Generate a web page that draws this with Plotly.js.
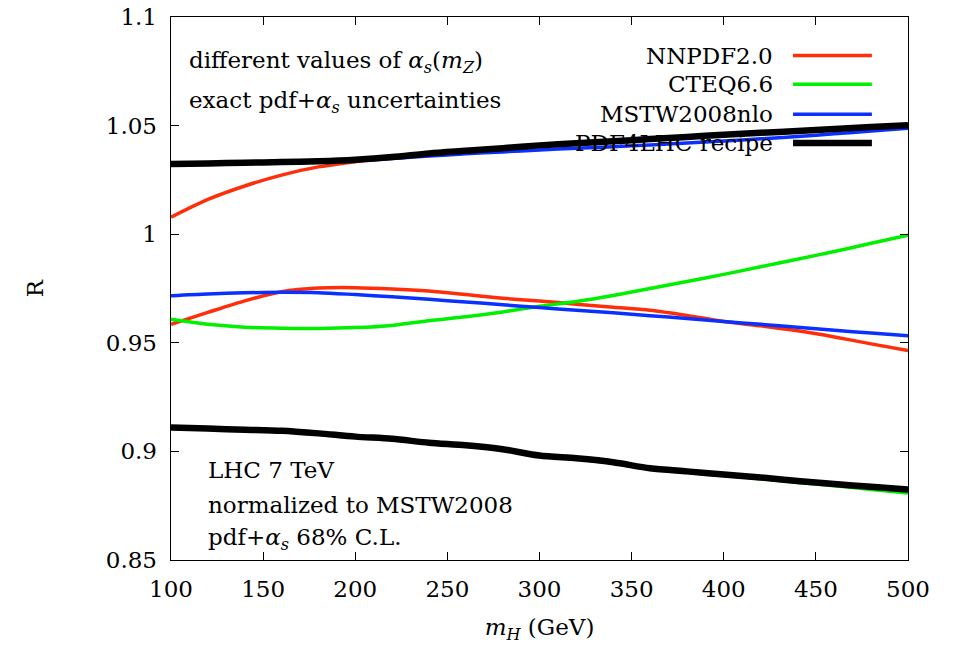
<!DOCTYPE html>
<html>
<head>
<meta charset="utf-8">
<script src="https://cdn.plot.ly/plotly-3.0.1.min.js"></script>
<style>
  html, body { margin: 0; padding: 0; background: #fff; }
  #chart { width: 953px; height: 648px; }
</style>
</head>
<body>
<div id="chart"></div>
<script>
// Higgs mass grid (GeV)
const mH = [100,120,140,160,180,200,220,240,260,280,300,320,340,360,380,400,420,440,460,480,500];

// NNPDF2.0 band (upper / lower)
const nnpdfUp   = [1.0078,1.0160,1.0222,1.0272,1.0310,1.0334,1.0352,1.0368,1.0381,1.0393,1.0406,1.0416,1.0425,1.0435,1.0445,1.0455,1.0464,1.0472,1.0481,1.0490,1.0499];
const nnpdfDown = [0.9585,0.9640,0.9693,0.9735,0.9752,0.9754,0.9748,0.9738,0.9722,0.9705,0.9692,0.9678,0.9664,0.9650,0.9626,0.9598,0.9578,0.9555,0.9527,0.9495,0.9464];

// CTEQ6.6 band
const cteqUp    = [0.9608,0.9585,0.9572,0.9567,0.9566,0.9570,0.9580,0.9602,0.9620,0.9642,0.9668,0.9690,0.9718,0.9750,0.9782,0.9815,0.9850,0.9885,0.9920,0.9958,0.9995];
const cteqDown  = [0.9112,0.9107,0.9102,0.9099,0.9088,0.9072,0.9060,0.9041,0.9027,0.9008,0.8978,0.8964,0.8946,0.8920,0.8904,0.8889,0.8874,0.8857,0.8842,0.8825,0.8808];

// MSTW2008nlo band
const mstwUp    = [1.0322,1.0325,1.0328,1.0331,1.0334,1.0339,1.0348,1.0360,1.0370,1.0379,1.0388,1.0396,1.0403,1.0411,1.0420,1.0429,1.0439,1.0450,1.0462,1.0475,1.0488];
const mstwDown  = [0.9717,0.9725,0.9730,0.9733,0.9731,0.9722,0.9712,0.9700,0.9688,0.9675,0.9662,0.9650,0.9638,0.9625,0.9612,0.9598,0.9585,0.9572,0.9558,0.9545,0.9533];

// PDF4LHC recipe envelope
const pdf4lhcUp   = [1.0323,1.0326,1.0329,1.0332,1.0336,1.0343,1.0355,1.0372,1.0384,1.0396,1.0409,1.0419,1.0428,1.0438,1.0448,1.0458,1.0467,1.0475,1.0484,1.0493,1.0502];
const pdf4lhcDown = [0.9110,0.9105,0.9100,0.9095,0.9083,0.9068,0.9058,0.9040,0.9028,0.9010,0.8981,0.8968,0.8950,0.8922,0.8908,0.8894,0.8880,0.8864,0.8850,0.8837,0.8824];

// axis ticks
const xTickVals = [100,150,200,250,300,350,400,450,500];
const yTickVals = [0.85,0.9,0.95,1,1.05,1.1];
const yTickText = ['0.85','0.9','0.95','1','1.05','1.1'];

// legend entries
const legendNames = ['NNPDF2.0','CTEQ6.6','MSTW2008nlo','PDF4LHC recipe'];

const RED = '#ff2e0a', GREEN = '#00f000', BLUE = '#0a30ff', BLACK = '#000000';
const FONT = 'DejaVu Serif';
const FS = 23;

function tr(y, color, width) {
  return { x: mH, y: y, mode: 'lines', type: 'scatter', showlegend: false,
           hoverinfo: 'skip',
           line: { color: color, width: width, shape: 'spline', smoothing: 0.8 } };
}

const data = [
  tr(nnpdfUp, RED, 3.5), tr(nnpdfDown, RED, 3.5),
  tr(cteqUp, GREEN, 3.5), tr(cteqDown, GREEN, 3.5),
  tr(mstwUp, BLUE, 3.5), tr(mstwDown, BLUE, 3.5),
  tr(pdf4lhcUp, BLACK, 6.5), tr(pdf4lhcDown, BLACK, 6.5)
];

// gnuplot-style key: text right-aligned, line sample to the right
const legColors = [RED, GREEN, BLUE, BLACK];
const legWidths = [3.5, 3.5, 3.5, 6.5];
const legY = [0.929, 0.876, 0.821, 0.768];
const annotations = [];
const shapes = [];
legendNames.forEach((n, i) => {
  annotations.push({ xref: 'paper', yref: 'paper', x: 0.819, y: legY[i], xanchor: 'right', yanchor: 'middle',
    text: n, showarrow: false, font: { family: FONT, size: FS, color: '#000' } });
  shapes.push({ type: 'line', xref: 'paper', yref: 'paper', x0: 0.844, x1: 0.951, y0: legY[i], y1: legY[i],
    line: { color: legColors[i], width: legWidths[i] } });
});

const notes = [
  { t: 'different values of <i>α<sub>s</sub></i>(<i>m<sub>Z</sub></i>)', x: 0.022, y: 0.917 },
  { t: 'exact pdf+<i>α<sub>s</sub></i> uncertainties', x: 0.022, y: 0.843 },
  { t: 'LHC 7 TeV', x: 0.048, y: 0.166 },
  { t: 'normalized to MSTW2008', x: 0.048, y: 0.101 },
  { t: 'pdf+<i>α<sub>s</sub></i> 68% C.L.', x: 0.048, y: 0.039 }
];
notes.forEach(n => annotations.push({ xref: 'paper', yref: 'paper', x: n.x, y: n.y, xanchor: 'left', yanchor: 'middle',
  text: n.t, showarrow: false, font: { family: FONT, size: FS, color: '#000' } }));

const layout = {
  width: 953, height: 648,
  margin: { l: 171, r: 45, t: 17, b: 88 },
  paper_bgcolor: '#fff', plot_bgcolor: '#fff',
  font: { family: FONT, size: FS, color: '#000' },
  showlegend: false,
  xaxis: {
    range: [100, 500], tickvals: xTickVals, ticks: 'inside', ticklen: 8, tickwidth: 1.2, tickcolor: '#000',
    showline: true, linecolor: '#000', linewidth: 1.4, mirror: 'ticks', showgrid: false, zeroline: false,
    tickfont: { family: FONT, size: FS }, ticklabelstandoff: 8,
    title: { text: '<i>m<sub>H</sub></i> (GeV)', font: { family: FONT, size: FS }, standoff: 18 }
  },
  yaxis: {
    range: [0.85, 1.1], tickvals: yTickVals, ticktext: yTickText, ticks: 'inside', ticklen: 8, tickwidth: 1.2, tickcolor: '#000',
    showline: true, linecolor: '#000', linewidth: 1.4, mirror: 'ticks', showgrid: false, zeroline: false,
    tickfont: { family: FONT, size: FS }, ticklabelstandoff: 8,
    title: { text: 'R', font: { family: FONT, size: FS }, standoff: 55 }
  },
  annotations: annotations,
  shapes: shapes
};

Plotly.newPlot('chart', data, layout, { staticPlot: true, displayModeBar: false });
</script>
</body>
</html>
